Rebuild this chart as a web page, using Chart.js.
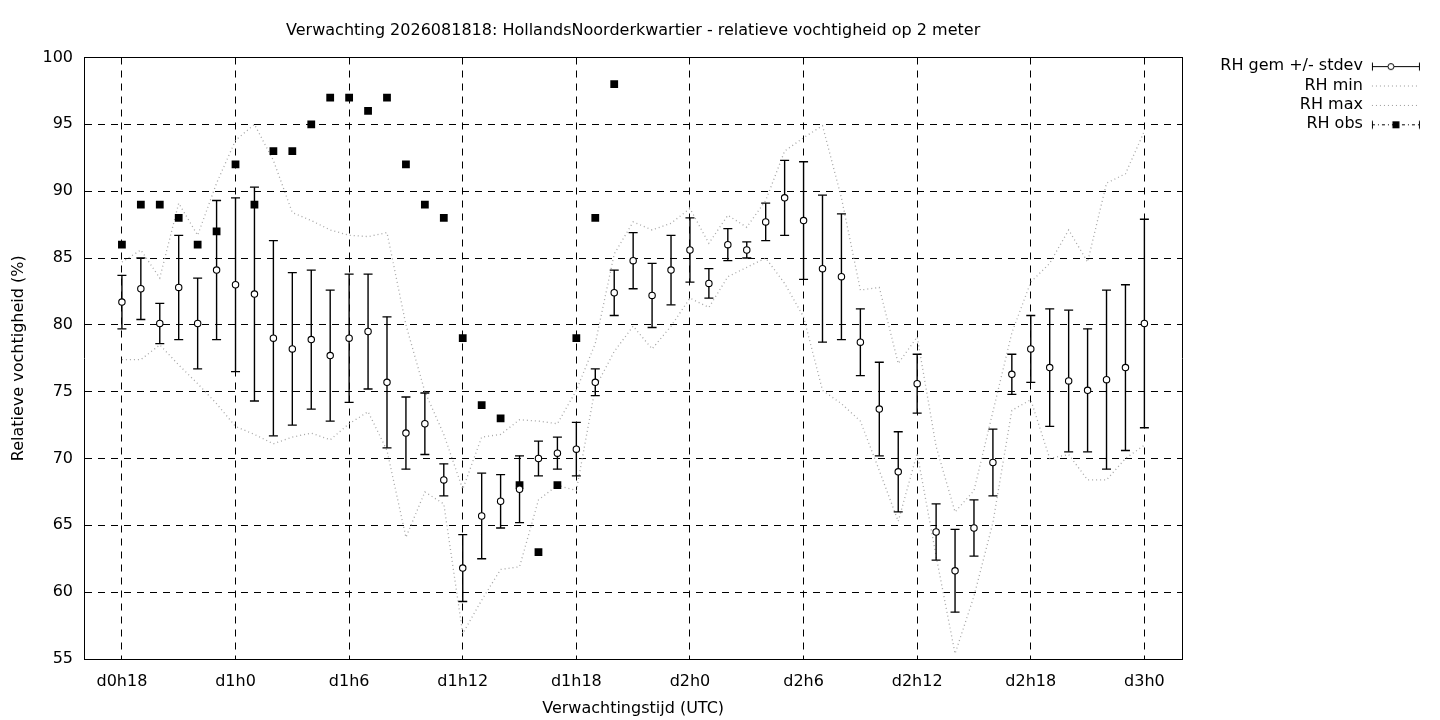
<!DOCTYPE html>
<html>
<head>
<meta charset="utf-8">
<title>Verwachting relatieve vochtigheid</title>
<script src="https://cdn.jsdelivr.net/npm/chart.js@4.4.1/dist/chart.umd.min.js"></script>
<style>
  html, body { margin: 0; padding: 0; background: #fff; }
  #rh { display: block; }
</style>
</head>
<body>
<canvas id="rh" width="1440" height="720"></canvas>
<script>
// forecast hour (hours after d0h0)
const hours = [18, 19, 20, 21, 22, 23, 24, 25, 26, 27, 28, 29, 30, 31, 32, 33, 34, 35, 36,
  37, 38, 39, 40, 41, 42, 43, 44, 45, 46, 47, 48, 49, 50, 51, 52, 53, 54, 55, 56,
  57, 58, 59, 60, 61, 62, 63, 64, 65, 66, 67, 68, 69, 70, 71, 72];

const rhMean = [81.7, 82.7, 80.1, 82.8, 80.1, 84.1, 83.0, 82.3, 79.0, 78.2, 78.9, 77.7, 79.0, 79.5,
  75.7, 71.9, 72.6, 68.4, 61.8, 65.7, 66.8, 67.7, 70.0, 70.4, 70.7, 75.7, 82.4, 84.8,
  82.2, 84.1, 85.6, 83.1, 86.0, 85.6, 87.7, 89.5, 87.8, 84.2, 83.6, 78.7, 73.7, 69.0,
  75.6, 64.5, 61.6, 64.8, 69.7, 76.3, 78.2, 76.8, 75.8, 75.1, 75.9, 76.8, 80.1];

const rhStdev = [2.0, 2.3, 1.5, 3.9, 3.4, 5.2, 6.5, 8.0, 7.3, 5.7, 5.2, 4.9, 4.8, 4.3,
  4.9, 2.7, 2.3, 1.2, 2.5, 3.2, 2.0, 2.5, 1.3, 1.2, 2.0, 1.0, 1.7, 2.1,
  2.4, 2.6, 2.4, 1.1, 1.2, 0.6, 1.4, 2.8, 4.4, 5.5, 4.7, 2.5, 3.5, 3.0,
  2.2, 2.1, 3.1, 2.1, 2.5, 1.5, 2.5, 4.4, 5.3, 4.6, 6.7, 6.2, 7.8];

const rhMin = [77.4, 77.4, 78.5, 77.0, 75.6, 74.1, 72.4, 71.8, 71.1, 71.6, 71.9, 71.4, 72.6, 73.5,
  70.6, 64.1, 67.5, 66.6, 56.9, 59.4, 61.7, 61.9, 66.9, 68.0, 67.6, 75.3, 78.0, 79.9,
  78.2, 79.9, 82.0, 81.3, 83.6, 84.3, 85.0, 83.1, 80.6, 75.1, 74.1, 72.8, 69.1, 65.3,
  70.4, 62.7, 55.4, 59.7, 65.2, 73.6, 74.4, 70.0, 70.3, 68.4, 68.4, 70.0, 71.0];

const rhMax = [84.7, 85.6, 83.5, 89.1, 86.7, 90.6, 93.8, 95.0, 92.3, 88.4, 87.8, 87.1, 86.7, 86.6,
  86.9, 80.0, 75.0, 71.8, 67.7, 71.6, 71.8, 72.9, 72.8, 72.6, 75.1, 78.6, 85.3, 87.7,
  87.1, 87.6, 88.7, 86.1, 88.2, 87.3, 89.3, 93.0, 94.0, 94.9, 89.5, 82.6, 82.8, 77.1,
  79.1, 70.9, 66.0, 67.6, 73.5, 79.4, 83.2, 84.6, 87.1, 84.7, 90.6, 91.3, 94.5];

// observations exist for the first 27 hours (18 .. 44)
const rhObs = [86, 89, 89, 88, 86, 87, 92, 89, 93, 93, 95, 97, 97, 96, 97, 92, 89, 88,
  79, 74, 73, 68, 63, 68, 79, 88, 98];

const tickHours = [18, 24, 30, 36, 42, 48, 54, 60, 66, 72];
const tickLabels = ["d0h18", "d1h0", "d1h6", "d1h12", "d1h18", "d2h0", "d2h6", "d2h12", "d2h18", "d3h0"];
const legendNames = ["RH gem +/- stdev", "RH min", "RH max", "RH obs"];

Chart.defaults.font.family = "'DejaVu Sans', sans-serif";
Chart.defaults.font.size = 16;
Chart.defaults.color = "#000";

const meanPts = hours.map((h, i) => ({x: h, y: rhMean[i]}));
const minPts = hours.map((h, i) => ({x: h, y: rhMin[i]}));
const maxPts = hours.map((h, i) => ({x: h, y: rhMax[i]}));
const obsPts = rhObs.map((v, i) => ({x: hours[i], y: v}));
const capPts = [];
const barPts = [];
hours.forEach((h, i) => {
  const lo = rhMean[i] - rhStdev[i];
  const hi = rhMean[i] + rhStdev[i];
  capPts.push({x: h, y: lo}, {x: h, y: hi});
  barPts.push({x: h, y: lo}, {x: h, y: hi}, {x: h, y: null});
});

// little pictures for the legend keys
function sample(kind) {
  const c = document.createElement("canvas");
  c.width = 50;
  c.height = 12;
  const g = c.getContext("2d");
  const y = 6.5;
  g.lineWidth = 1;
  if (kind === "dot") {
    g.strokeStyle = "#999";
    g.setLineDash([1, 3]);
    g.beginPath(); g.moveTo(1, y); g.lineTo(49, y); g.stroke();
    return c;
  }
  g.strokeStyle = "#000";
  if (kind === "obs") g.setLineDash([3, 3, 1, 3]);
  g.beginPath(); g.moveTo(1, y); g.lineTo(49, y); g.stroke();
  g.setLineDash([]);
  g.beginPath();
  g.moveTo(1.5, y - 4); g.lineTo(1.5, y + 4);
  g.moveTo(48.5, y - 4); g.lineTo(48.5, y + 4);
  g.stroke();
  if (kind === "mean") {
    g.fillStyle = "#fff";
    g.beginPath(); g.arc(20, y, 3, 0, 2 * Math.PI); g.fill(); g.stroke();
  } else {
    g.fillStyle = "#000";
    g.fillRect(21.5, y - 3.5, 7, 7);
  }
  return c;
}
const legendKeys = [sample("mean"), sample("dot"), sample("dot"), sample("obs")];
const legendSets = [0, 4, 5, 1];

const gridDash = [7, 6];

new Chart(document.getElementById("rh"), {
  type: "scatter",
  data: {
    datasets: [
      {
        label: legendNames[0],
        data: meanPts,
        pointStyle: "circle",
        pointRadius: 3.2,
        pointBackgroundColor: "#fff",
        pointBorderColor: "#000",
        pointBorderWidth: 1.1
      },
      {
        label: legendNames[3],
        data: obsPts,
        pointStyle: "rect",
        pointRadius: 5.5,
        pointBackgroundColor: "#000",
        pointBorderColor: "#000",
        pointBorderWidth: 0
      },
      {
        label: "caps",
        data: capPts,
        pointStyle: "line",
        pointRadius: 4.5,
        pointBorderColor: "#000",
        pointBorderWidth: 1.3
      },
      {
        type: "line",
        label: "bars",
        data: barPts,
        borderColor: "#000",
        borderWidth: 1.4,
        pointRadius: 0,
        spanGaps: false,
        fill: false
      },
      {
        type: "line",
        label: legendNames[1],
        data: minPts,
        borderColor: "#a6a6a6",
        borderWidth: 1.3,
        borderDash: [1, 3],
        pointRadius: 0,
        tension: 0,
        fill: false
      },
      {
        type: "line",
        label: legendNames[2],
        data: maxPts,
        borderColor: "#a6a6a6",
        borderWidth: 1.3,
        borderDash: [1, 3],
        pointRadius: 0,
        tension: 0,
        fill: false
      }
    ]
  },
  options: {
    responsive: false,
    animation: false,
    events: [],
    layout: { padding: { top: 0, right: 15.7, bottom: 0.6, left: 0 } },
    scales: {
      x: {
        type: "linear",
        min: 16,
        max: 74,
        afterBuildTicks: s => { s.ticks = tickHours.map(v => ({value: v})); },
        ticks: {
          autoSkip: false,
          maxRotation: 0,
          padding: 13,
          callback: v => tickLabels[tickHours.indexOf(v)]
        },
        grid: { color: "#000", lineWidth: 1, drawTicks: false },
        border: { color: "#000", width: 1, dash: gridDash },
        title: { display: true, text: "Verwachtingstijd (UTC)", padding: { top: -5, bottom: 1 } }
      },
      y: {
        min: 55,
        max: 100,
        ticks: { stepSize: 5, padding: 11 },
        grid: { color: "#000", lineWidth: 1, drawTicks: false },
        border: { color: "#000", width: 1, dash: gridDash },
        title: { display: true, text: "Relatieve vochtigheid (%)", padding: { top: 9.4, bottom: 2.9 } }
      },
      // top and right axes only close the frame
      x2: {
        type: "linear",
        position: "top",
        ticks: { display: false },
        grid: { display: false },
        border: { display: true, color: "#000", width: 1 },
        afterFit: s => { s.height = 0; }
      },
      y2: {
        type: "linear",
        position: "right",
        ticks: { display: false },
        grid: { display: false },
        border: { display: true, color: "#000", width: 1 },
        afterFit: s => { s.width = 28; }
      }
    },
    plugins: {
      tooltip: { enabled: false },
      title: {
        display: true,
        fullSize: false,
        text: "Verwachting 2026081818: HollandsNoorderkwartier - relatieve vochtigheid op 2 meter",
        font: { size: 16, weight: "normal" },
        color: "#000",
        padding: { top: 21.4, bottom: 16.9 }
      },
      legend: {
        position: "right",
        align: "start",
        fullSize: true,
        rtl: true,
        title: { display: true, text: "", font: { size: 12 }, padding: { top: 40.3, bottom: 0 } },
        labels: {
          usePointStyle: true,
          pointStyleWidth: 50,
          padding: 3.4,
          color: "#000",
          font: { size: 16 },
          generateLabels: () => legendNames.map((name, i) => ({
            text: name,
            pointStyle: legendKeys[i],
            datasetIndex: legendSets[i],
            hidden: false,
            lineWidth: 0,
            fillStyle: "rgba(0,0,0,0)",
            strokeStyle: "rgba(0,0,0,0)",
            fontColor: "#000"
          }))
        }
      }
    }
  }
});
</script>
</body>
</html>
